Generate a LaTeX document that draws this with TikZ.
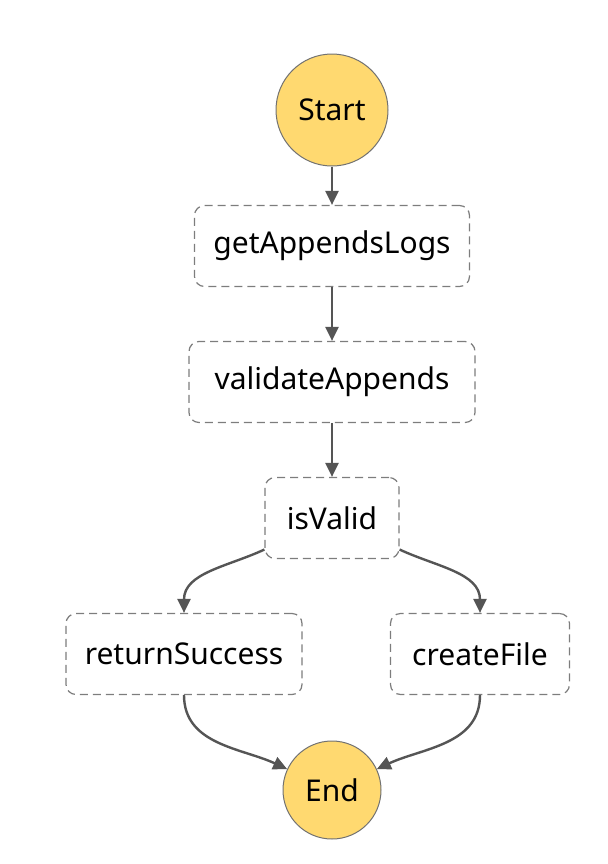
\documentclass[tikz,border=0pt]{standalone}
\usepackage{fontspec}
\setmainfont{Noto Sans}
\usetikzlibrary{arrows.meta}
\definecolor{stateyellow}{RGB}{255,217,112}
\definecolor{edgegray}{RGB}{85,85,85}
\definecolor{boxgray}{RGB}{125,125,125}

\begin{document}
\begin{tikzpicture}[x=0.5pt,y=-0.5pt,node distance=68pt,
    flow/.style={draw=edgegray,line width=1.2pt,-{Triangle[length=7pt,width=6.5pt]}},
    task node/.style={rectangle,rounded corners=5pt,draw=boxgray,line width=0.6pt,
        dash pattern=on 4pt off 2.5pt,minimum height=40.5pt,font=\fontsize{15}{18}\selectfont},
    end node/.style={circle,draw=boxgray!90!black,line width=0.5pt,fill=stateyellow,inner sep=0pt,
        font=\fontsize{15}{18}\selectfont}]

            \useasboundingbox (0,0) rectangle (608,864);

            \node[end node,minimum size=56pt] (start) at (332,110) {Start};
            \node[task node,minimum width=137.5pt] (get)[below of = start] {getAppendsLogs};
            \node[task node,minimum width=143pt] (validate)[below of = get] {validateAppends};
            \node[task node,minimum width=67pt] (isvalid)[below of = validate] {isValid};

            \node[task node,minimum width=118pt] (success)[below of = isvalid, xshift=-74pt] {returnSuccess};
            \node[task node,minimum width=89.5pt] (create)[below of = isvalid, xshift=74pt] {createFile};
            \node[end node,minimum size=49pt] (end)[below of = success, xshift=74pt] {End};

            \path[every edge/.style={flow}]
                (start) edge (get)
                (get) edge (validate)
                (validate) edge (isvalid)
                (isvalid.-155) edge[out=-155,in=90] (success.north)
                (isvalid.-25) edge[out=-25,in=90] (create.north)
                (success.south) edge[out=-90,in=155] (end.155)
                (create.south) edge[out=-90,in=25] (end.25)
                ;
        \end{tikzpicture}
\end{document}
